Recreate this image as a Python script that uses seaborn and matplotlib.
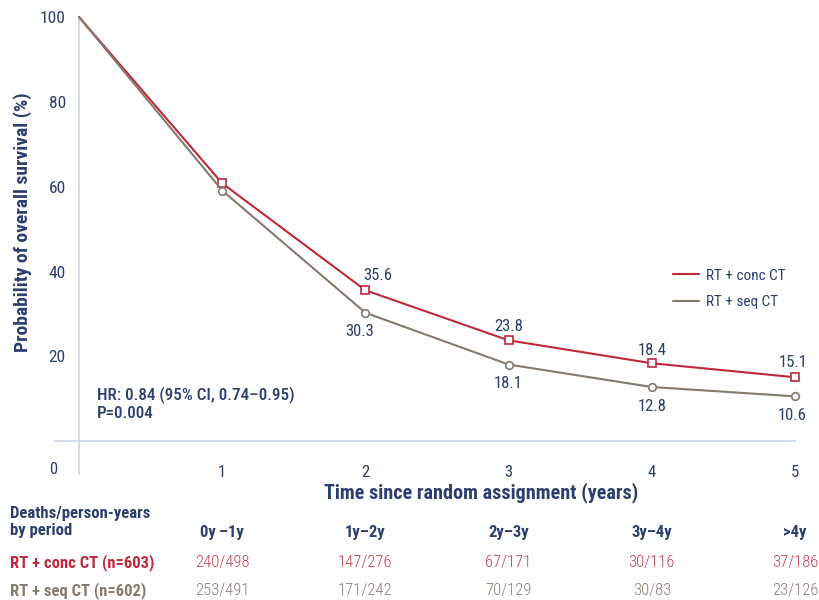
import matplotlib
matplotlib.use("Agg")
import matplotlib.pyplot as plt
from matplotlib import font_manager
from matplotlib.lines import Line2D
import matplotlib.transforms as mtransforms
import seaborn as sns
import pandas as pd

# ---- data ----
years = [0, 1, 2, 3, 4, 5]
conc_ct = [100, 60.8, 35.6, 23.8, 18.4, 15.1]
seq_ct = [100, 59.1, 30.3, 18.1, 12.8, 10.6]
arm_names = ["RT + conc CT", "RT + seq CT"]
labelled_years = [2, 3, 4, 5]

periods = ["0y\u2009\u20131y", "1y\u20132y", "2y\u20133y", "3y\u20134y", ">4y"]
conc_deaths = ["240/498", "147/276", "67/171", "30/116", "37/186"]
seq_deaths = ["253/491", "171/242", "70/129", "30/83", "23/126"]
row_labels = ["RT + conc CT (n=603)", "RT + seq CT (n=602)"]
hr_text = "HR: 0.84 (95% CI, 0.74\u20130.95)\nP=0.004"

# ---- style ----
RED = "#c0283c"
GREY = "#857a6e"
RED_LIGHT = "#c8404f"
GREY_LIGHT = "#8a8076"
NAVY = "#2b3e6e"
AXIS = "#c9d5ea"

sns.set_theme(style="white")
available = {f.name for f in font_manager.fontManager.ttflist}
family = None
for cand in ["Liberation Sans Narrow", "Roboto Condensed", "Roboto", "DejaVu Sans"]:
    if cand in available:
        family = cand
        break
plt.rcParams["font.family"] = [family, "DejaVu Sans"]

fig = plt.figure(figsize=(8.19, 6.0), dpi=100)
ax = fig.add_axes([55 / 819, 1 - 474 / 600, (795 - 55) / 819, (474 - 17) / 600])

df = pd.DataFrame({
    "year": years * 2,
    "survival": conc_ct + seq_ct,
    "arm": [arm_names[0]] * len(years) + [arm_names[1]] * len(years),
})
palette = {arm_names[0]: RED, arm_names[1]: GREY}
sns.lineplot(data=df, x="year", y="survival", hue="arm", style="arm",
             markers={arm_names[0]: "s", arm_names[1]: "o"}, dashes=False,
             palette=palette, linewidth=1.5, markersize=5.5, ax=ax,
             legend=False, clip_on=False, zorder=3)
for line in ax.lines:
    c = line.get_color()
    line.set_markerfacecolor("white")
    line.set_markeredgecolor(c)
    line.set_markeredgewidth(1.2)
    # no marker at the origin point
    line.set_markevery(list(range(1, len(years))))

ax.set_xlim(-0.168, 5)
ax.set_ylim(-7.7, 100)
for side in ["top", "right"]:
    ax.spines[side].set_visible(False)
ax.spines["left"].set_position(("data", 0))
ax.spines["bottom"].set_position(("data", 0))
for side in ["left", "bottom"]:
    ax.spines[side].set_color(AXIS)
    ax.spines[side].set_linewidth(1.2)

ax.set_xticks([1, 2, 3, 4, 5])
ax.set_yticks([20, 40, 60, 80, 100])
ax.tick_params(axis="x", direction="out", length=7, width=1.2, color=AXIS,
               labelsize=12, labelcolor=NAVY, pad=10)
ax.tick_params(axis="y", direction="out", length=4.5, width=1.2, color=AXIS,
               labelsize=12.5, labelcolor=NAVY, pad=5)
ax.set_xlabel("")
ax.set_ylabel("")

# origin label
ax.text(-0.18, -6.7, "0", ha="center", va="center", fontsize=12, color=NAVY,
        clip_on=False)

# value labels
red_dx = {2: 12, 3: 0, 4: 0, 5: -2}
grey_dx = {2: -6, 3: 0, 4: 0, 5: -3}
red_dy = {2: 15, 3: 14, 4: 13, 5: 15}
for yr, v in zip(years, conc_ct):
    if yr in labelled_years:
        ax.annotate(f"{v:.1f}", (yr, v), xytext=(red_dx[yr], red_dy[yr]),
                    textcoords="offset pixels", ha="center", va="center",
                    fontsize=12, color=NAVY)
for yr, v in zip(years, seq_ct):
    if yr in labelled_years:
        ax.annotate(f"{v:.1f}", (yr, v), xytext=(grey_dx[yr], -19),
                    textcoords="offset pixels", ha="center", va="center",
                    fontsize=12, color=NAVY)

# hazard ratio text
ax.text(97 / 819, 1 - 404 / 600, hr_text, transform=fig.transFigure,
        ha="left", va="center", fontsize=12.3, fontweight=500, color=NAVY,
        linespacing=1.1)

# axis titles
fig.text(481 / 819, 1 - 493 / 600, "Time since random assignment (years)",
         ha="center", va="center", fontsize=14.5, fontweight="bold", color=NAVY)
fig.text(23 / 819, 1 - 222 / 600, "Probability of overall survival (%)",
         ha="center", va="center", rotation=90, fontsize=14,
         fontweight="bold", color=NAVY)

# legend (lines only)
handles = [Line2D([], [], color=RED, lw=1.5), Line2D([], [], color=GREY, lw=1.5)]
ax.legend(handles, arm_names, loc="upper left",
          bbox_to_anchor=(659 / 819, 1 - 255 / 600),
          bbox_transform=fig.transFigure, frameon=False, fontsize=11,
          handlelength=1.7, handletextpad=0.45, labelspacing=0.8,
          labelcolor=NAVY)

# table of deaths / person-years
blend = mtransforms.blended_transform_factory(ax.transData, fig.transFigure)
fig.text(10 / 819, 1 - 522 / 600, "Deaths/person-years\nby period", ha="left",
         va="center", fontsize=12, fontweight="bold", color=NAVY,
         linespacing=1.15)
for i, p in enumerate(periods):
    ax.text(i + 1, 1 - 532 / 600, p, transform=blend, ha="center",
            va="center", fontsize=12, fontweight="bold", color=NAVY,
            clip_on=False)
    ax.text(i + 1, 1 - 563 / 600, conc_deaths[i], transform=blend,
            ha="center", va="center", fontsize=12, fontweight="light",
            color=RED_LIGHT, clip_on=False)
    ax.text(i + 1, 1 - 591 / 600, seq_deaths[i], transform=blend,
            ha="center", va="center", fontsize=12, fontweight="light",
            color=GREY_LIGHT, clip_on=False)
fig.text(10 / 819, 1 - 563 / 600, row_labels[0], ha="left", va="center",
         fontsize=12, fontweight="bold", color=RED)
fig.text(10 / 819, 1 - 591 / 600, row_labels[1], ha="left", va="center",
         fontsize=12, fontweight="bold", color=GREY)

fig.savefig("out.png", dpi=100)
